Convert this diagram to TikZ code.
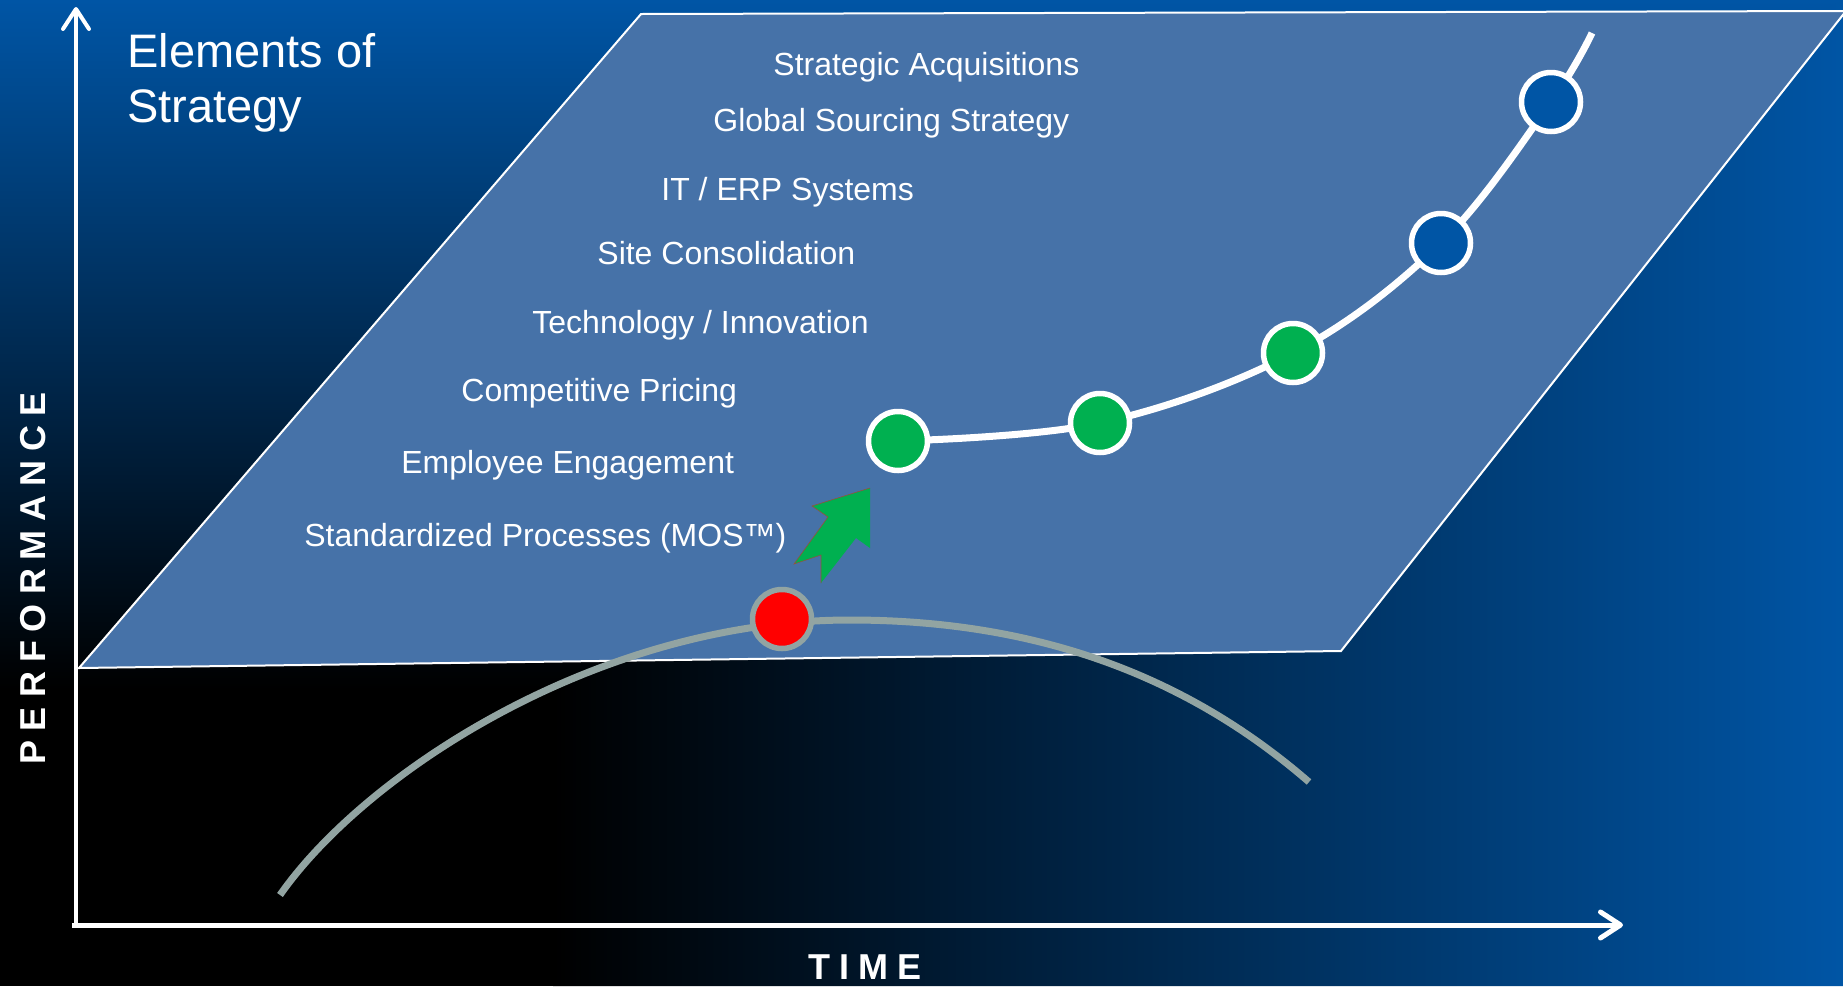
\documentclass[tikz,border=0pt]{standalone}
\usepackage{fontspec}
\setmainfont{Liberation Sans}
\newfontfamily\spacedfont{Liberation Sans}[LetterSpace=25]
\usetikzlibrary{arrows.meta}
\definecolor{bgblue}{RGB}{0,85,165}
\definecolor{planeblue}{RGB}{70,114,168}
\definecolor{curvegray}{RGB}{146,164,162}
\definecolor{dotgreen}{RGB}{0,176,80}
\definecolor{dotred}{RGB}{255,0,0}
\definecolor{arrowedge}{RGB}{150,80,60}

\begin{document}
\begin{tikzpicture}[x=0.5pt,y=-0.5pt,
  axisline/.style={white, -{Straight Barb[length=10pt,width=13pt,round]}},
  planeedge/.style={draw=white, line width=1pt, fill=planeblue},
  itemtext/.style={anchor=base west, inner sep=0pt, text=white, font=\fontsize{16}{19}\selectfont},
  axislabel/.style={text=white, inner sep=0pt, font=\spacedfont\bfseries\fontsize{18}{20}\selectfont},
  milestone/.style={circle, inner sep=0pt, minimum size=29.5pt, line width=2.75pt},
  pathline/.style={white, line width=3.5pt},
  oldline/.style={curvegray, line width=3.5pt},
]
% canvas
\clip (0,0) rectangle (1843,986);

% background: dark in the lower left corner, blue towards top and right
\fill[black] (0,0) rectangle (1843,986);
\shade[top color=bgblue, bottom color=black] (0,0) rectangle (1843,690);
\begin{scope}
  \clip (0,986) -- (1843,986) -- (1843,0) -- cycle;
  \shade[left color=black, right color=bgblue] (553,0) rectangle (1843,986);
\end{scope}

% strategy plane
\draw[planeedge] (641,14) -- (1846,11) -- (1341,651) -- (79,668) -- cycle;

% axes
\draw[axisline, line width=2pt] (76,923) -- (76,7);
\draw[axisline, line width=2.5pt] (72,925) -- (1623,925);
\node[axislabel, rotate=90] (perf) at (33,578) {PERFORMANCE};
\node[axislabel] (time) at (865,967) {TIME};

% title (anchored on the baseline of its last line)
\node[anchor=base west, inner sep=0pt, text=white, align=left,
      font=\fontsize{23.5}{27.5}\selectfont] (title) at (127,122) {Elements of\\Strategy};

% strategy elements
\node[itemtext] (e8) at (773,75)  {Strategic Acquisitions};
\node[itemtext] (e7) at (713,131) {Global Sourcing Strategy};
\node[itemtext] (e6) at (661,200) {IT / ERP Systems};
\node[itemtext] (e5) at (597,264) {Site Consolidation};
\node[itemtext] (e4) at (532,333) {Technology / Innovation};
\node[itemtext] (e3) at (461,401) {Competitive Pricing};
\node[itemtext] (e2) at (401,473) {Employee Engagement};
\node[itemtext] (e1) at (304,546) {Standardized Processes (MOS™)};

% old performance curve: rises, flattens, declines
\draw[oldline] (280,895) .. controls (366,772) and (600,620) .. (850,620)
  .. controls (1050,620) and (1196,684) .. (1309,782);
\node[milestone, draw=curvegray, fill=dotred] (red) at (782,619) {};

% new growth curve
\coordinate (pG1) at (898,441);
\coordinate (pG2) at (1100,423);
\coordinate (pG3) at (1293,353);
\coordinate (pB1) at (1441,243);
\coordinate (pB2) at (1551,102);
\coordinate (pEnd) at (1592,33);
\draw[pathline] plot[smooth, tension=0.6] coordinates {(pG1) (pG2) (pG3) (pB1) (pB2) (pEnd)};
\node[milestone, draw=white, fill=dotgreen] (g1) at (pG1) {};
\node[milestone, draw=white, fill=dotgreen] (g2) at (pG2) {};
\node[milestone, draw=white, fill=dotgreen] (g3) at (pG3) {};
\node[milestone, draw=white, fill=bgblue] (b1) at (pB1) {};
\node[milestone, draw=white, fill=bgblue] (b2) at (pB2) {};

% jump arrow
\fill[dotgreen] (870,488) -- (812,506) -- (828,517) -- (794,564) -- (821,555)
  -- (821,583) -- (856,538) -- (870,548) -- cycle;
\draw[arrowedge, line width=0.3pt] (870,488) -- (812,506) -- (828,517) -- (794,564)
  -- (821,555) -- (821,583);
\end{tikzpicture}
\end{document}
